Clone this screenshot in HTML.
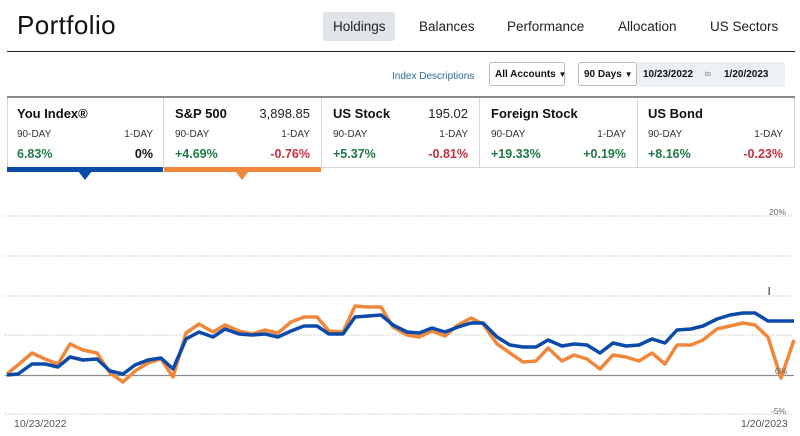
<!DOCTYPE html>
<html>
<head>
<meta charset="utf-8">
<style>
  html,body{margin:0;padding:0;background:#fff;}
  body{width:800px;height:436px;position:relative;overflow:hidden;font-family:"Liberation Sans",sans-serif;color:#111;}
  .abs{position:absolute;white-space:nowrap;}
  .title{left:17px;top:10px;font-size:26px;color:#111;letter-spacing:0.4px;}
  .nav{top:19px;font-size:13.5px;color:#222;}
  .hold{left:323px;top:12px;width:72px;height:29px;background:#e1e4e8;border-radius:3px;}
  .hline{left:7px;top:51px;width:788px;height:1px;background:#222;}
  .idx{left:392px;top:71px;font-size:10px;color:#2e6a96;}
  .box{top:62px;height:24px;border:1px solid #bbb;border-radius:3px;box-sizing:border-box;background:#fff;font-size:10px;font-weight:bold;line-height:23px;}
  .datebg{left:637px;top:62px;width:148px;height:25px;background:#edf1f5;}
  .dt{top:69px;font-size:10px;font-weight:bold;color:#111;}
  .cardtop{left:7px;top:96px;width:788px;height:2px;background:#8a8a8a;}
  .vdiv{top:98px;width:1px;height:70px;background:#d6d6d6;}
  .cbot{top:167px;height:1px;background:#d6d6d6;}
  .ct{top:106px;font-size:13px;font-weight:bold;color:#111;}
  .cp{top:106px;font-size:13px;color:#222;}
  .cl{top:129px;font-size:10px;color:#333;}
  .cv{top:147px;font-size:12.5px;font-weight:bold;}
  .g{color:#1f7a45;}
  .r{color:#c4313d;}
  .k{color:#111;}
  .ax{font-size:8.5px;color:#666;}
  .dl{font-size:10.5px;color:#555;}
</style>
</head>
<body>
  <div class="abs title">Portfolio</div>
  <div class="abs hold"></div>
  <div class="abs nav" style="left:333px;">Holdings</div>
  <div class="abs nav" style="left:419px;">Balances</div>
  <div class="abs nav" style="left:507px;">Performance</div>
  <div class="abs nav" style="left:618px;">Allocation</div>
  <div class="abs nav" style="left:710px;">US Sectors</div>
  <div class="abs hline"></div>

  <div class="abs idx">Index Descriptions</div>
  <div class="abs box" style="left:489px;width:76px;padding-left:5px;">All Accounts <span style="font-size:8px;">&#9660;</span></div>
  <div class="abs datebg"></div>
  <div class="abs box" style="left:578px;width:59px;padding-left:5px;">90 Days <span style="font-size:8px;">&#9660;</span></div>
  <div class="abs dt" style="left:643px;">10/23/2022</div>
  <div class="abs" style="left:705px;top:71px;font-size:7px;color:#777;">to</div>
  <div class="abs dt" style="left:724px;">1/20/2023</div>

  <div class="abs cardtop"></div>
  <div class="abs vdiv" style="left:7px;"></div>
  <div class="abs vdiv" style="left:163px;"></div>
  <div class="abs vdiv" style="left:321px;"></div>
  <div class="abs vdiv" style="left:479px;"></div>
  <div class="abs vdiv" style="left:637px;"></div>
  <div class="abs vdiv" style="left:794px;"></div>
  <div class="abs cbot" style="left:321px;width:474px;"></div>
  <div class="abs" style="left:7px;top:167px;width:156px;height:5px;background:#0a4aa8;"></div>
  <div class="abs" style="left:164px;top:167px;width:157px;height:5px;background:#f0883c;"></div>
  <svg class="abs" style="left:0;top:0;" width="800" height="190">
    <polygon points="78,171 92,171 85,180" fill="#0a4aa8"/>
    <polygon points="235,171 249,171 242,180" fill="#f0883c"/>
  </svg>

  <!-- card 1 -->
  <div class="abs ct" style="left:17px;">You Index&reg;</div>
  <div class="abs cl" style="left:17px;">90-DAY</div>
  <div class="abs cl" style="right:647px;">1-DAY</div>
  <div class="abs cv g" style="left:17px;">6.83%</div>
  <div class="abs cv k" style="right:647px;">0%</div>
  <!-- card 2 -->
  <div class="abs ct" style="left:175px;">S&amp;P 500</div>
  <div class="abs cp" style="right:490px;">3,898.85</div>
  <div class="abs cl" style="left:175px;">90-DAY</div>
  <div class="abs cl" style="right:490px;">1-DAY</div>
  <div class="abs cv g" style="left:175px;">+4.69%</div>
  <div class="abs cv r" style="right:490px;">-0.76%</div>
  <!-- card 3 -->
  <div class="abs ct" style="left:333px;">US Stock</div>
  <div class="abs cp" style="right:332px;">195.02</div>
  <div class="abs cl" style="left:333px;">90-DAY</div>
  <div class="abs cl" style="right:332px;">1-DAY</div>
  <div class="abs cv g" style="left:333px;">+5.37%</div>
  <div class="abs cv r" style="right:332px;">-0.81%</div>
  <!-- card 4 -->
  <div class="abs ct" style="left:491px;">Foreign Stock</div>
  <div class="abs cl" style="left:491px;">90-DAY</div>
  <div class="abs cl" style="right:174px;">1-DAY</div>
  <div class="abs cv g" style="left:491px;">+19.33%</div>
  <div class="abs cv g" style="right:174px;">+0.19%</div>
  <!-- card 5 -->
  <div class="abs ct" style="left:648px;">US Bond</div>
  <div class="abs cl" style="left:648px;">90-DAY</div>
  <div class="abs cl" style="right:17px;">1-DAY</div>
  <div class="abs cv g" style="left:648px;">+8.16%</div>
  <div class="abs cv r" style="right:17px;">-0.23%</div>

  <!-- chart -->
  <svg class="abs" style="left:0;top:0;" width="800" height="436">
    <g stroke="#c4c4c4" stroke-width="1" stroke-dasharray="1.5,1.5">
      <line x1="5" y1="216" x2="794" y2="216"/>
      <line x1="5" y1="256" x2="794" y2="256"/>
      <line x1="5" y1="296" x2="794" y2="296"/>
      <line x1="5" y1="335" x2="794" y2="335"/>
      <line x1="5" y1="414" x2="794" y2="414"/>
    </g>
    <line x1="5" y1="375.5" x2="794" y2="375.5" stroke="#8a8a8a" stroke-width="1.3"/>
    <rect x="768.5" y="287" width="1.5" height="8" fill="#666"/>
    <polyline fill="none" stroke="#f0883c" stroke-width="3.5" stroke-linejoin="round" points="7,374 18,365 32,353 45,359 58,364 70,344 83,350 97,353 110,373 123,382 135,371 148,363 161,359 173,377 186,333 199,324 213,332 225,325 239,331 252,334 265,330 278,333 291,322 304,317 317,317 329,331 343,332 355,306 368,307 381,307 393,327 407,335 419,337 432,331 445,336 458,325 471,318 483,324 497,344 510,353 523,362 536,361 548,348 562,361 574,355 587,359 600,369 613,355 626,357 639,361 652,353 665,364 677,345 691,345 703,340 717,329 730,326 743,323 755,325 768,337 781,378 794,340"/>
    <polyline fill="none" stroke="#0a4aa8" stroke-width="3.5" stroke-linejoin="round" points="7,375 18,374 32,364 45,364 58,367 70,357 83,360 97,359 110,371 123,374 135,365 148,360 161,358 173,369 186,339 199,332 213,337 225,329 239,334 252,335 265,334 278,337 291,331 304,326 317,326 329,334 343,334 355,317 368,316 381,315 393,325 407,332 419,333 432,328 445,332 458,327 471,323 483,323 497,337 510,345 523,347 536,347 548,340 562,346 574,344 587,345 600,353 613,343 626,346 639,345 652,339 665,343 677,330 691,329 703,326 717,319 730,315 743,313 755,313 768,321 781,321 794,321"/>
  </svg>
  <div class="abs ax" style="left:769px;top:207px;">20%</div>
  <div class="abs ax" style="left:775px;top:366px;">0%</div>
  <div class="abs ax" style="left:771px;top:406px;">-5%</div>
  <div class="abs dl" style="left:14px;top:418px;">10/23/2022</div>
  <div class="abs dl" style="left:741px;top:418px;">1/20/2023</div>
</body>
</html>
